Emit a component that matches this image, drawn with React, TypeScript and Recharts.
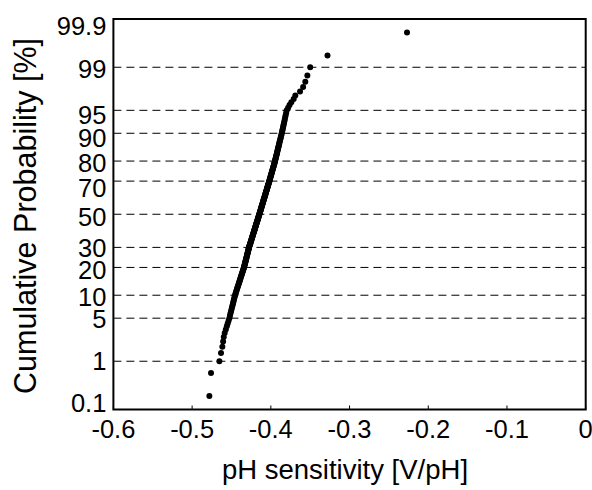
import React from 'react'
import {
  ScatterChart,
  Scatter,
  XAxis,
  YAxis,
  CartesianGrid,
  ReferenceArea,
  Label,
} from 'recharts'

// pH sensitivity of each sample [V/pH], sorted ascending
const sensitivity = [
  -0.4781, -0.4760, -0.4654, -0.4633, -0.4616, -0.4606, -0.4598, -0.4586, -0.4572, -0.4559,
  -0.4548, -0.4537, -0.4527, -0.4519, -0.4513, -0.4506, -0.4500, -0.4494, -0.4488, -0.4482,
  -0.4477, -0.4472, -0.4467, -0.4462, -0.4457, -0.4452, -0.4446, -0.4441, -0.4435, -0.4430,
  -0.4425, -0.4420, -0.4415, -0.4410, -0.4405, -0.4400, -0.4396, -0.4391, -0.4387, -0.4383,
  -0.4379, -0.4374, -0.4370, -0.4366, -0.4362, -0.4358, -0.4354, -0.4350, -0.4347, -0.4343,
  -0.4340, -0.4337, -0.4334, -0.4331, -0.4328, -0.4325, -0.4323, -0.4320, -0.4318, -0.4315,
  -0.4312, -0.4310, -0.4307, -0.4305, -0.4302, -0.4300, -0.4297, -0.4295, -0.4292, -0.4290,
  -0.4288, -0.4285, -0.4283, -0.4280, -0.4278, -0.4276, -0.4273, -0.4270, -0.4267, -0.4264,
  -0.4261, -0.4259, -0.4256, -0.4253, -0.4250, -0.4248, -0.4245, -0.4242, -0.4240, -0.4237,
  -0.4234, -0.4232, -0.4229, -0.4226, -0.4224, -0.4221, -0.4218, -0.4216, -0.4213, -0.4211,
  -0.4208, -0.4205, -0.4203, -0.4200, -0.4198, -0.4195, -0.4193, -0.4190, -0.4187, -0.4185,
  -0.4182, -0.4180, -0.4177, -0.4175, -0.4172, -0.4170, -0.4167, -0.4165, -0.4162, -0.4160,
  -0.4157, -0.4155, -0.4152, -0.4150, -0.4147, -0.4145, -0.4142, -0.4140, -0.4138, -0.4135,
  -0.4133, -0.4130, -0.4128, -0.4125, -0.4123, -0.4121, -0.4118, -0.4116, -0.4113, -0.4111,
  -0.4108, -0.4106, -0.4103, -0.4101, -0.4098, -0.4096, -0.4094, -0.4091, -0.4088, -0.4086,
  -0.4083, -0.4081, -0.4078, -0.4076, -0.4073, -0.4071, -0.4068, -0.4066, -0.4063, -0.4061,
  -0.4058, -0.4055, -0.4053, -0.4050, -0.4048, -0.4045, -0.4042, -0.4040, -0.4037, -0.4034,
  -0.4032, -0.4029, -0.4026, -0.4023, -0.4020, -0.4018, -0.4015, -0.4013, -0.4010, -0.4007,
  -0.4004, -0.4002, -0.3999, -0.3996, -0.3993, -0.3991, -0.3988, -0.3985, -0.3982, -0.3979,
  -0.3976, -0.3973, -0.3970, -0.3967, -0.3964, -0.3961, -0.3958, -0.3955, -0.3952, -0.3949,
  -0.3946, -0.3943, -0.3940, -0.3937, -0.3934, -0.3931, -0.3928, -0.3925, -0.3922, -0.3919,
  -0.3916, -0.3912, -0.3909, -0.3906, -0.3902, -0.3899, -0.3895, -0.3892, -0.3888, -0.3884,
  -0.3880, -0.3876, -0.3872, -0.3868, -0.3864, -0.3859, -0.3855, -0.3851, -0.3846, -0.3842,
  -0.3837, -0.3832, -0.3827, -0.3822, -0.3817, -0.3811, -0.3805, -0.3798, -0.3780, -0.3762,
  -0.3740, -0.3710, -0.3689, -0.3629, -0.3590, -0.3562, -0.3536, -0.3500, -0.3280, -0.2270,
]

const xTicks = [-0.6, -0.5, -0.4, -0.3, -0.2, -0.1, 0]
const probTicks = [0.1, 1, 5, 10, 20, 30, 50, 70, 80, 90, 95, 99, 99.9] // [%]

const FONT = 'Arial, "Liberation Sans", Helvetica, sans-serif'

// inverse standard normal CDF (Acklam) – turns the probability axis into a normal-probability scale
function probit(p: number): number {
  const a = [-39.69683028665376, 220.9460984245205, -275.9285104469687, 138.357751867269, -30.66479806614716, 2.506628277459239]
  const b = [-54.47609879822406, 161.5858368580409, -155.6989798598866, 66.80131188771972, -13.28068155288572]
  const c = [-0.007784894002430293, -0.3223964580411365, -2.400758277161838, -2.549732539343734, 4.374664141464968, 2.938163982698783]
  const d = [0.007784695709041462, 0.3224671290700398, 2.445134137142996, 3.754408661907416]
  const plow = 0.02425
  if (p < plow) {
    const q = Math.sqrt(-2 * Math.log(p))
    return (((((c[0] * q + c[1]) * q + c[2]) * q + c[3]) * q + c[4]) * q + c[5]) /
      ((((d[0] * q + d[1]) * q + d[2]) * q + d[3]) * q + 1)
  }
  if (p > 1 - plow) return -probit(1 - p)
  const q = p - 0.5
  const r = q * q
  return (((((a[0] * r + a[1]) * r + a[2]) * r + a[3]) * r + a[4]) * r + a[5]) * q /
    (((((b[0] * r + b[1]) * r + b[2]) * r + b[3]) * r + b[4]) * r + 1)
}

// plotting position of each sorted sample: (rank - 0.5) / n
const n = sensitivity.length
const points = sensitivity.map((v, i) => ({ x: v, z: probit((i + 0.5) / n) }))

const zTicks = probTicks.map((p) => probit(p / 100))
const zMin = zTicks[0]
const zMax = zTicks[zTicks.length - 1]

// small vertical nudges of the y labels, as laid out in the original
const yLabelNudge: Record<string, number> = {
  '0.1': -6.5, '1': -0.5, '5': 1.2, '10': 1.5, '20': 3, '30': 0.7, '50': 3,
  '70': 7, '80': 1.8, '90': 4.8, '95': 4.7, '99': 1.6, '99.9': 7,
}

function XTick(props: any) {
  const { x, y, payload } = props
  return (
    <g>
      <line x1={x} x2={x} y1={y} y2={y - 4} stroke="#000" strokeWidth={1} />
      <text x={x} y={y + 28} textAnchor="middle" fontSize={25.5} fontFamily={FONT} fill="#000">
        {String(payload.value)}
      </text>
    </g>
  )
}

function YTick(props: any) {
  const { x, y, payload } = props
  let idx = 0
  zTicks.forEach((z, i) => {
    if (Math.abs(z - payload.value) < Math.abs(zTicks[idx] - payload.value)) idx = i
  })
  const label = String(probTicks[idx])
  return (
    <text x={x - 7} y={y + 9 + (yLabelNudge[label] || 0)} textAnchor="end" fontSize={25.5} fontFamily={FONT} fill="#000">
      {label}
    </text>
  )
}

export default function App() {
  return (
    <div style={{ position: 'absolute', left: 0, top: 0, background: '#fff' }}>
      <ScatterChart width={592} height={490} margin={{ top: 19, right: 6.3, bottom: 0.5, left: 13.4 }}>
        <CartesianGrid vertical={false} stroke="#000" strokeDasharray="8 5" />
        <XAxis
          type="number"
          dataKey="x"
          domain={[-0.6, 0]}
          ticks={xTicks}
          allowDataOverflow
          axisLine={false}
          tickLine={false}
          tickSize={0}
          tickMargin={0}
          height={80}
          tick={<XTick />}
          interval={0}
        >
          <Label
            content={() => (
              <text x={345} y={479} textAnchor="middle" fontSize={27.5} fontFamily={FONT} fill="#000">
                pH sensitivity [V/pH]
              </text>
            )}
          />
        </XAxis>
        <YAxis
          type="number"
          dataKey="z"
          domain={[zMin, zMax]}
          ticks={zTicks}
          allowDataOverflow
          axisLine={false}
          tickLine={false}
          tickSize={0}
          tickMargin={0}
          width={100}
          tick={<YTick />}
          interval={0}
        >
          <Label
            content={() => (
              <text
                x={36}
                y={216}
                transform="rotate(-90, 36, 216)"
                textAnchor="middle"
                fontSize={30.5}
                fontFamily={FONT}
                fill="#000"
              >
                Cumulative Probability [%]
              </text>
            )}
          />
        </YAxis>
        <ReferenceArea x1={-0.6} x2={0} y1={zMin} y2={zMax} fill="none" stroke="#000" strokeWidth={2} />
        <Scatter
          data={points}
          isAnimationActive={false}
          shape={(p: any) => <circle cx={p.cx} cy={p.cy} r={3} fill="#000" />}
        />
      </ScatterChart>
    </div>
  )
}
